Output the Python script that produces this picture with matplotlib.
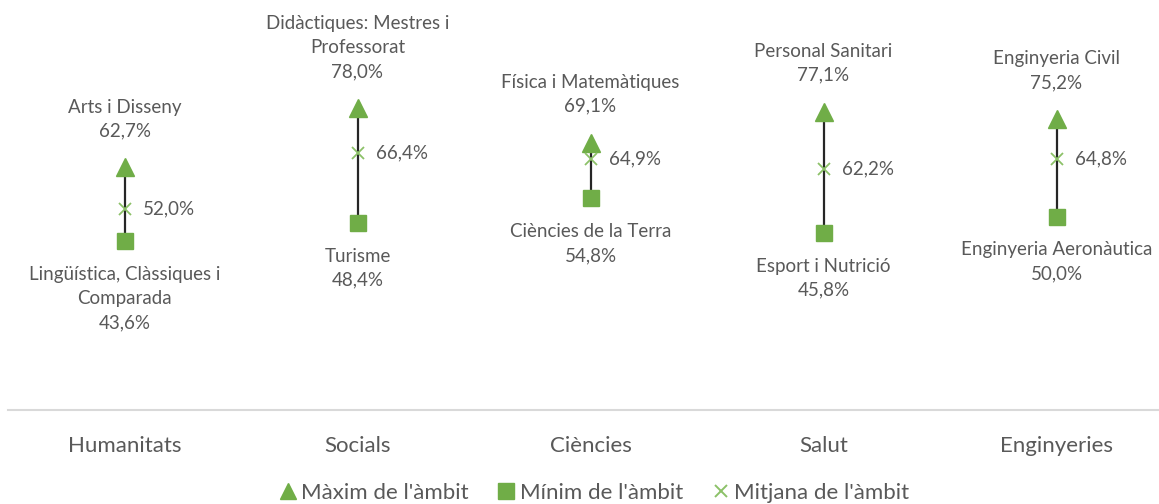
import matplotlib.pyplot as plt
from matplotlib.lines import Line2D

plt.rcParams['font.family'] = ['Lato', 'DejaVu Sans']

# data
categories = ["Humanitats", "Socials", "Ciències", "Salut", "Enginyeries"]
max_vals = [62.7, 78.0, 69.1, 77.1, 75.2]
max_names = ["Arts i Disseny", "Didàctiques: Mestres i\nProfessorat", "Física i Matemàtiques",
             "Personal Sanitari", "Enginyeria Civil"]
min_vals = [43.6, 48.4, 54.8, 45.8, 50.0]
min_names = ["Lingüística, Clàssiques i\nComparada", "Turisme", "Ciències de la Terra",
             "Esport i Nutrició", "Enginyeria Aeronàutica"]
mean_vals = [52.0, 66.4, 64.9, 62.2, 64.8]

green = "#70ad47"
light_green = "#8cc168"
text_col = "#595959"


def pct(v):
    return f"{v:.1f}".replace(".", ",") + "%"


fig = plt.figure(figsize=(11.59, 5.04), dpi=100)
ax = fig.add_axes([8 / 1159, 94 / 504, 1165 / 1159, 387 / 504])
ax.set_xlim(-0.5, len(categories) - 0.5)
ax.set_ylim(0, 100)

x = list(range(len(categories)))
ax.vlines(x, min_vals, max_vals, color="#262626", lw=1.6, zorder=1)
ax.plot(x, max_vals, ls="none", marker="^", ms=13, color=green, zorder=3)
ax.plot(x, min_vals, ls="none", marker="s", ms=12, color=green, zorder=3)
ax.plot(x, mean_vals, ls="none", marker="x", ms=8, mew=1.3, color=light_green, zorder=3)

for i in x:
    ax.annotate(max_names[i] + "\n" + pct(max_vals[i]), (i, max_vals[i]),
                xytext=(0, 20), textcoords="offset points", ha="center", va="bottom",
                fontsize=13.5, color=text_col, linespacing=1.5)
    ax.annotate(min_names[i] + "\n" + pct(min_vals[i]), (i, min_vals[i]),
                xytext=(0, -18), textcoords="offset points", ha="center", va="top",
                fontsize=13.5, color=text_col, linespacing=1.5)
    ax.annotate(pct(mean_vals[i]), (i, mean_vals[i]),
                xytext=(13, 0), textcoords="offset points", ha="left", va="center",
                fontsize=13.5, color=text_col)

for s in ["top", "right", "left"]:
    ax.spines[s].set_visible(False)
ax.spines["bottom"].set_color("#d9d9d9")
ax.spines["bottom"].set_linewidth(1.5)
ax.set_yticks([])
ax.set_xticks(x)
ax.set_xticklabels(categories, fontsize=16, color=text_col)
ax.tick_params(axis="x", length=0, pad=19)

handles = [
    Line2D([], [], ls="none", marker="^", ms=12, color=green, label="Màxim de l'àmbit"),
    Line2D([], [], ls="none", marker="s", ms=12, color=green, label="Mínim de l'àmbit"),
    Line2D([], [], ls="none", marker="x", ms=9, mew=1.4, color=light_green, label="Mitjana de l'àmbit"),
]
fig.legend(handles=handles, loc="center", bbox_to_anchor=(594 / 1159, 1 - 493 / 504), ncol=3,
           frameon=False, fontsize=16, labelcolor=text_col, handlelength=0.8,
           handletextpad=0.2, columnspacing=1.3)

fig.savefig("out.png", dpi=100)
